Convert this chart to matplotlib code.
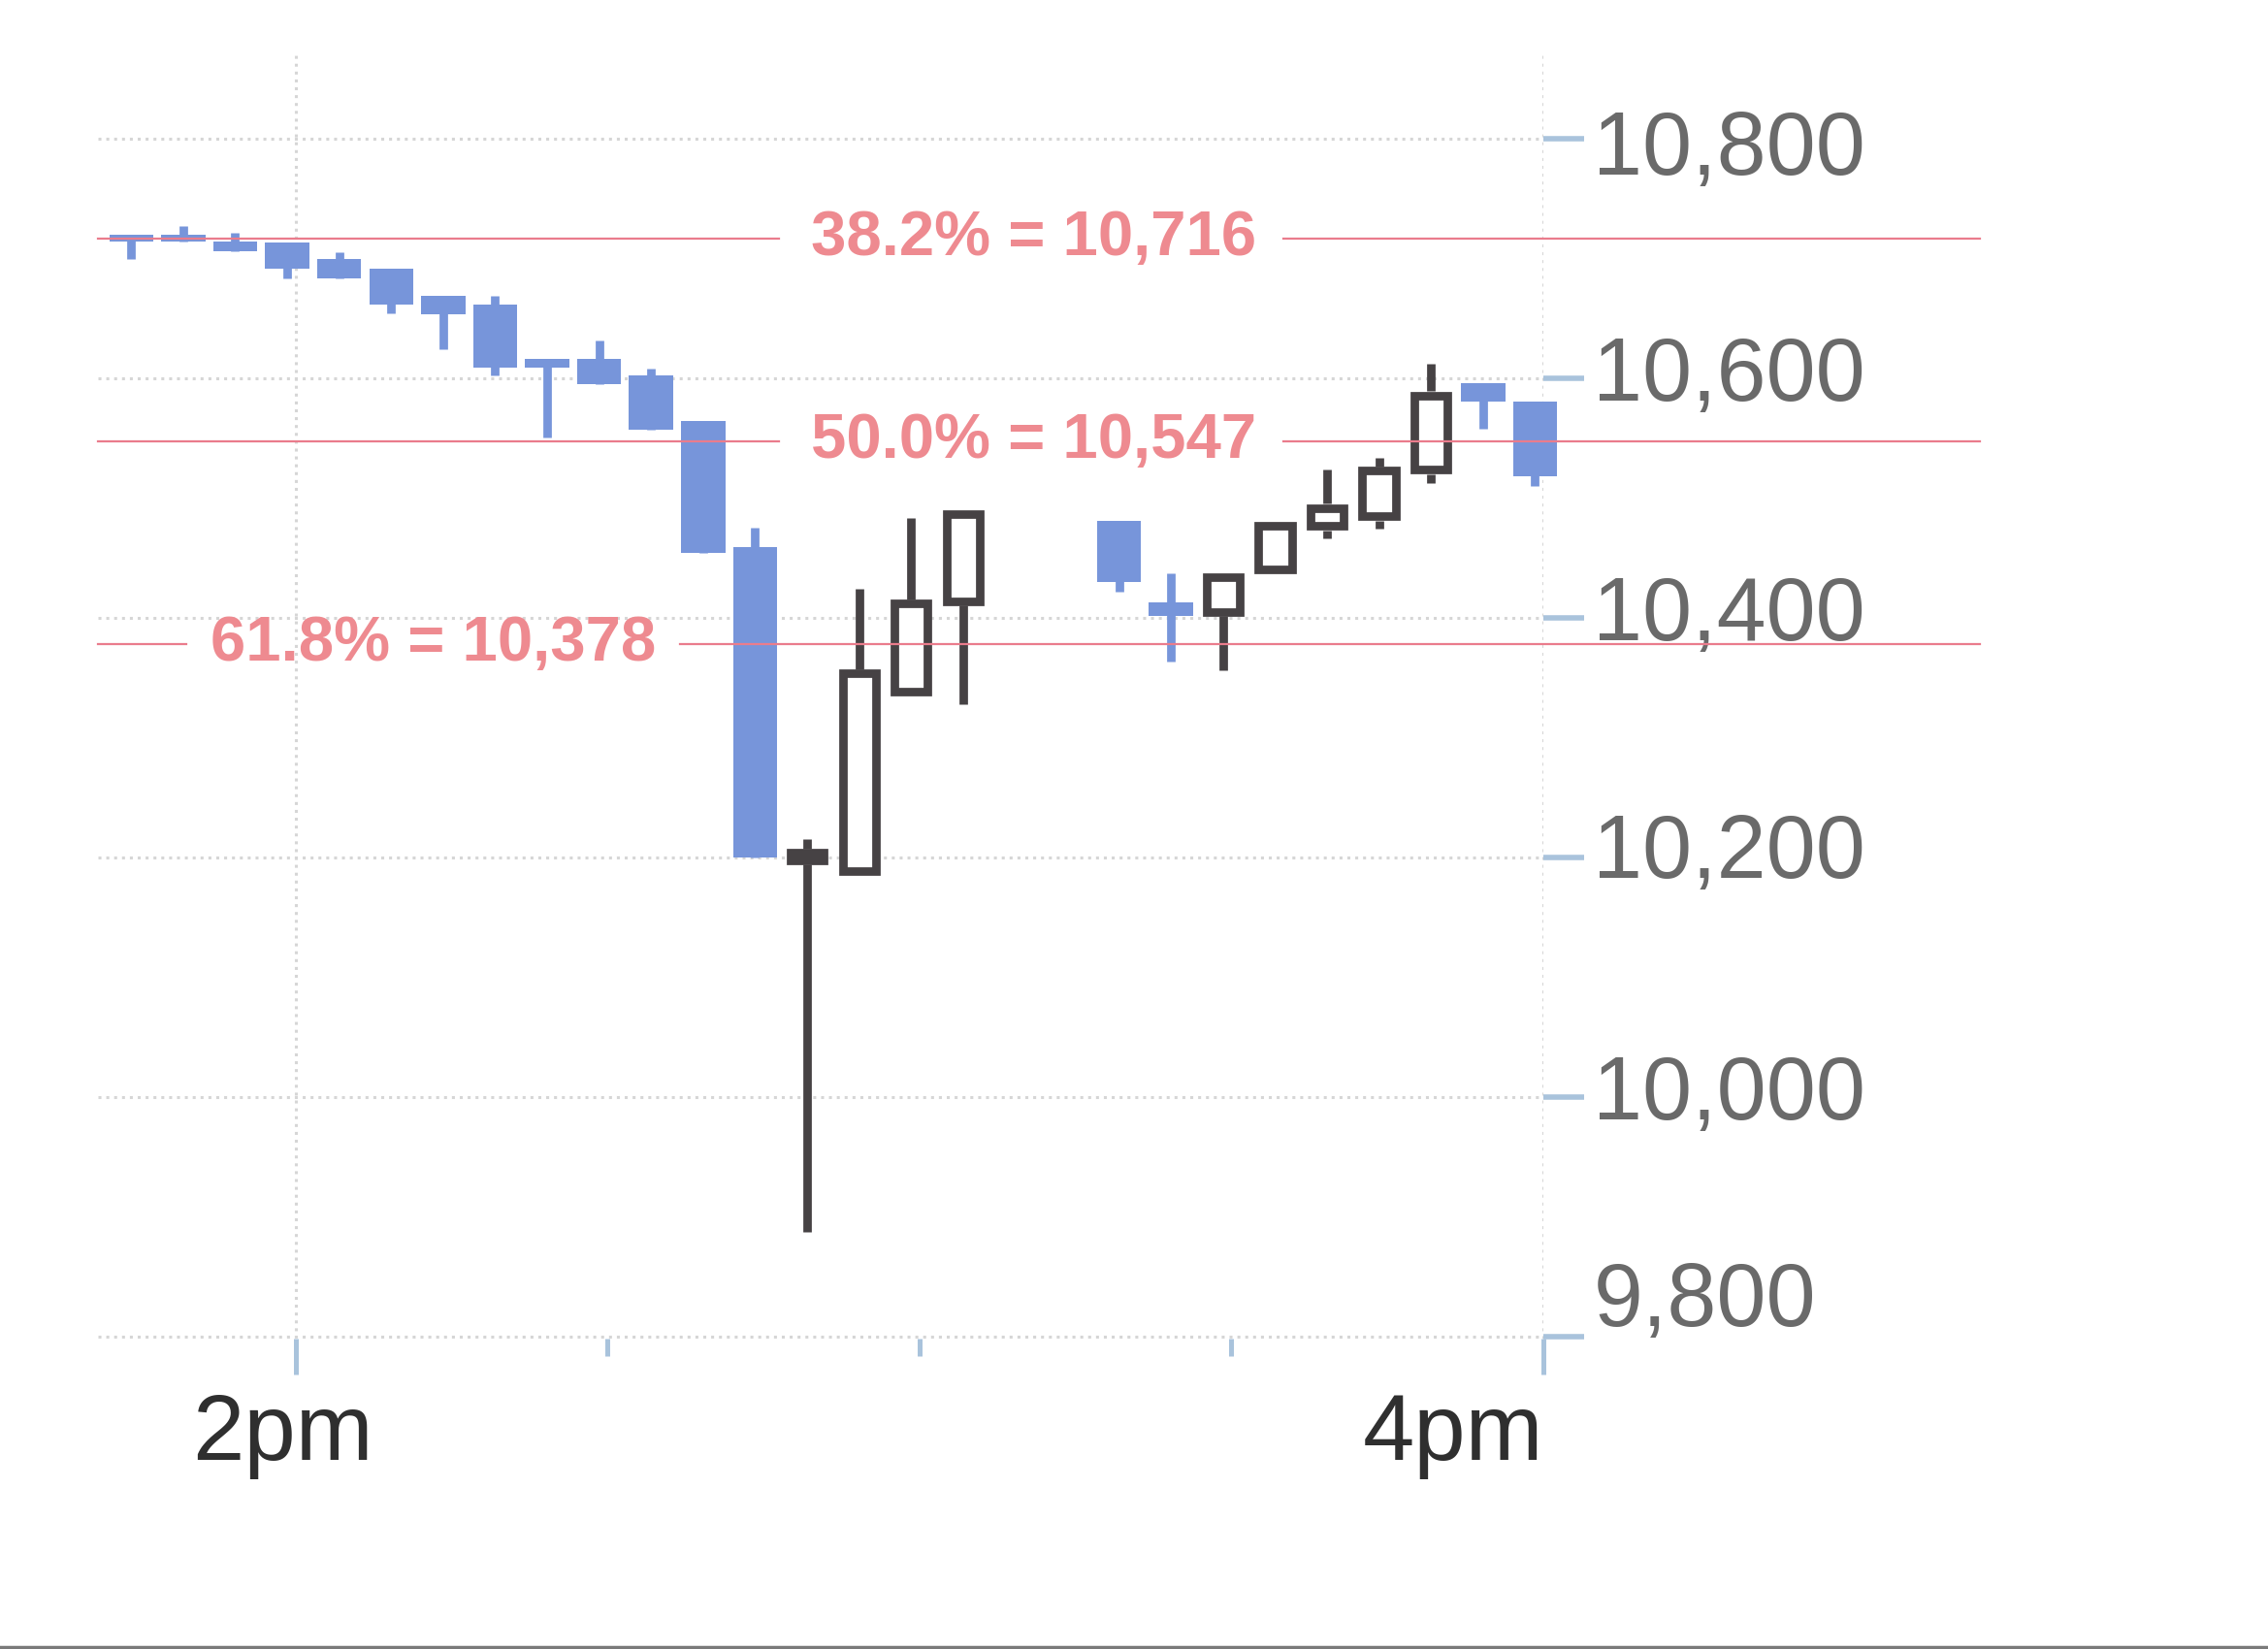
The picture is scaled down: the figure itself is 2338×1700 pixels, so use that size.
import matplotlib
matplotlib.use("Agg")
import matplotlib.pyplot as plt
import matplotlib.transforms as mtransforms
from matplotlib.patches import Rectangle
from matplotlib.lines import Line2D

# 5-minute candles, time in minutes after 2pm
times  = [-15, -10, -5, 0, 5, 10, 15, 20, 25, 30, 35, 40, 45, 50, 55, 60, 65,
          80, 85, 90, 95, 100, 105, 110, 115, 120]
opens  = [10720, 10720, 10714, 10713, 10699, 10691, 10669, 10661, 10616, 10616, 10602, 10564, 10459,
          10194, 10185, 10335, 10410, 10481, 10413, 10401, 10437, 10473, 10481, 10520, 10596, 10580]
highs  = [10720, 10727, 10721, 10713, 10705, 10691, 10669, 10669, 10616, 10631, 10608, 10564, 10475,
          10215, 10424, 10483, 10490, 10481, 10437, 10437, 10480, 10524, 10533, 10612, 10596, 10580]
lows   = [10699, 10714, 10706, 10683, 10683, 10654, 10624, 10602, 10550, 10595, 10557, 10454, 10200,
          9887, 10185, 10335, 10328, 10422, 10363, 10356, 10437, 10466, 10474, 10512, 10558, 10510]
closes = [10714, 10714, 10706, 10691, 10683, 10661, 10653, 10609, 10609, 10595, 10557, 10454, 10200,
          10207, 10357, 10415, 10490, 10430, 10401, 10437, 10480, 10495, 10526, 10589, 10580, 10518]

# fibonacci retracement levels
fib_pct = ["38.2%", "50.0%", "61.8%"]
fib_levels = [10716, 10547, 10378]

yticks = [9800, 10000, 10200, 10400, 10600, 10800]
ytick_labels = ["9,800", "10,000", "10,200", "10,400", "10,600", "10,800"]
xticks_major = [0, 120]
xtick_labels = ["2pm", "4pm"]
xticks_minor = [30, 60, 90]

BLUE = "#7795da"
DARK = "#464244"
FIB = "#ea7c8c"
FIB_TXT = "#ee8a90"
TICK = "#a9c3dc"
GRID = "#d6d6d6"

plt.rcParams["font.family"] = ["Liberation Sans", "DejaVu Sans"]

fig = plt.figure(figsize=(23.38, 17), dpi=100)
ax = fig.add_axes([0.0432, 0.1882, 0.6373, 0.7794])
ax.set_xlim(-19, 120)
ax.set_ylim(9798, 10871)

# candles (drawn a touch left of their timestamp, as in the original)
shift = -0.8
wick_lw = 6.3
blue_w = 4.25
hollow_w = 3.2
inset = 3.5
for t, o, h, l, c in zip(times, opens, highs, lows, closes):
    x = t + shift
    if c >= o:
        ax.plot([x, x], [c, h], color=DARK, lw=wick_lw, solid_capstyle="butt", zorder=3, clip_on=False)
        ax.plot([x, x], [l, o], color=DARK, lw=wick_lw, solid_capstyle="butt", zorder=3, clip_on=False)
        ax.add_patch(Rectangle((x - hollow_w / 2, o + inset), hollow_w, c - o - 2 * inset,
                               facecolor="white", edgecolor=DARK, lw=wick_lw,
                               joinstyle="miter", zorder=4, clip_on=False))
    else:
        ax.plot([x, x], [l, h], color=BLUE, lw=wick_lw, solid_capstyle="butt", zorder=3, clip_on=False)
        ax.add_patch(Rectangle((x - blue_w / 2, c), blue_w, o - c, facecolor=BLUE,
                               edgecolor="none", zorder=4, clip_on=False))

# retracement lines with a gap for the label
line_x = (-19, 162)
gaps = [(46.5, 95), (46.5, 95), (-10.5, 37)]
label_x = [71, 71, 13.25]
for pct, lvl, gap, lx in zip(fib_pct, fib_levels, gaps, label_x):
    ax.plot([line_x[0], gap[0]], [lvl, lvl], color=FIB, lw=1.6, zorder=5, clip_on=False)
    ax.plot([gap[1], line_x[1]], [lvl, lvl], color=FIB, lw=1.6, zorder=5, clip_on=False)
    ax.text(lx, lvl, f"{pct} = {lvl:,}", color=FIB_TXT, fontsize=47, fontweight="bold",
            ha="center", va="center", zorder=6)

# axes styling
for s in ax.spines.values():
    s.set_visible(False)
ax.yaxis.tick_right()
ax.set_yticks(yticks)
ax.set_yticklabels(ytick_labels)
ax.tick_params(axis="y", length=30, width=4, color=TICK, labelsize=66,
               labelcolor="#6a6a6a", pad=7)
ax.set_xticks(xticks_major)
ax.set_xticklabels(xtick_labels)
ax.set_xticks(xticks_minor, minor=True)
ax.tick_params(axis="x", which="major", length=26.6, width=3.6, color=TICK,
               labelsize=69, labelcolor="#2f2f2f", pad=13)
ax.tick_params(axis="x", which="minor", length=13, width=3.6, color=TICK)
ax.grid(axis="y", color=GRID, linestyle=":", lw=2.2, zorder=0)
ax.grid(axis="x", which="major", color=GRID, linestyle=":", lw=2.2, zorder=0)

# nudge labels to where they sit in the original
ydy = [32, 7, 9, 7, 7, -3]
for lbl, dy in zip(ax.get_yticklabels(), ydy):
    lbl.set_transform(lbl.get_transform() + mtransforms.ScaledTranslation(0, dy / 72, fig.dpi_scale_trans))
xl = ax.get_xticklabels()
xl[0].set_transform(xl[0].get_transform() + mtransforms.ScaledTranslation(-9.6 / 72, 0, fig.dpi_scale_trans))
xl[1].set_horizontalalignment("right")

# scanner edge at the bottom
fig.add_artist(Line2D([0, 1], [0.0012, 0.0012], color="#7a7a7a", lw=2.5))

fig.savefig("out.png", dpi=100, facecolor="white")
